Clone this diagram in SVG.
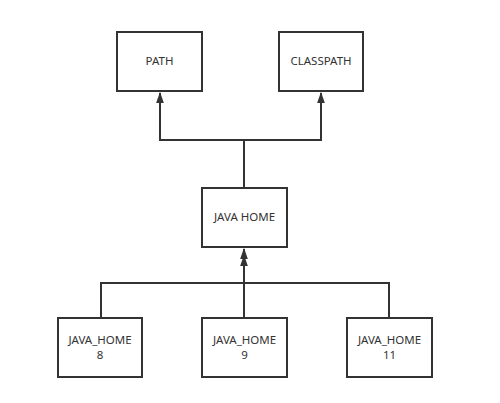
<svg xmlns="http://www.w3.org/2000/svg" width="500" height="403" viewBox="0 0 500 403">
<style>
.box{fill:#fff;stroke:#333;stroke-width:2}
.t{font-family:"Noto Sans","Open Sans",sans-serif;font-size:11.5px;fill:#333;text-anchor:middle}
.c{fill:none;stroke:#333;stroke-width:2}
</style>
<defs>
<marker id="a" viewBox="0 0 10 10" refX="9" refY="5" markerWidth="5.5" markerHeight="5.5" markerUnits="strokeWidth" orient="auto">
<path d="M0,1.5 L10,5 L0,8.5 z" fill="#333"/>
</marker>
</defs>
<rect width="500" height="403" fill="#fff"/>
<g id="connectors">
<path class="c" d="M244,188 V140 H160 V93" marker-end="url(#a)"/>
<path class="c" d="M244,140 H321 V93" marker-end="url(#a)"/>
<path class="c" d="M101,318 V283 H244 V249" marker-end="url(#a)"/>
<path class="c" d="M244,318 V256" marker-end="url(#a)"/>
<path class="c" d="M389,318 V283 H244"/>
</g>
<g id="path">
<rect class="box" x="117" y="32" width="85" height="59"/>
<text class="t" x="159.5" y="65">PATH</text>
</g>
<g id="classpath">
<rect class="box" x="279" y="32" width="84" height="59"/>
<text class="t" x="321" y="65">CLASSPATH</text>
</g>
<g id="javahome">
<rect class="box" x="202" y="188" width="85" height="59"/>
<text class="t" x="244.5" y="221">JAVA HOME</text>
</g>
<g id="jh8">
<rect class="box" x="58" y="318" width="84" height="59"/>
<text class="t" x="100" y="344">JAVA_HOME</text>
<text class="t" x="100" y="359">8</text>
</g>
<g id="jh9">
<rect class="box" x="202" y="318" width="85" height="59"/>
<text class="t" x="244.5" y="344">JAVA_HOME</text>
<text class="t" x="244.5" y="359">9</text>
</g>
<g id="jh11">
<rect class="box" x="347" y="318" width="85" height="59"/>
<text class="t" x="389.5" y="344">JAVA_HOME</text>
<text class="t" x="389.5" y="359">11</text>
</g>
</svg>
